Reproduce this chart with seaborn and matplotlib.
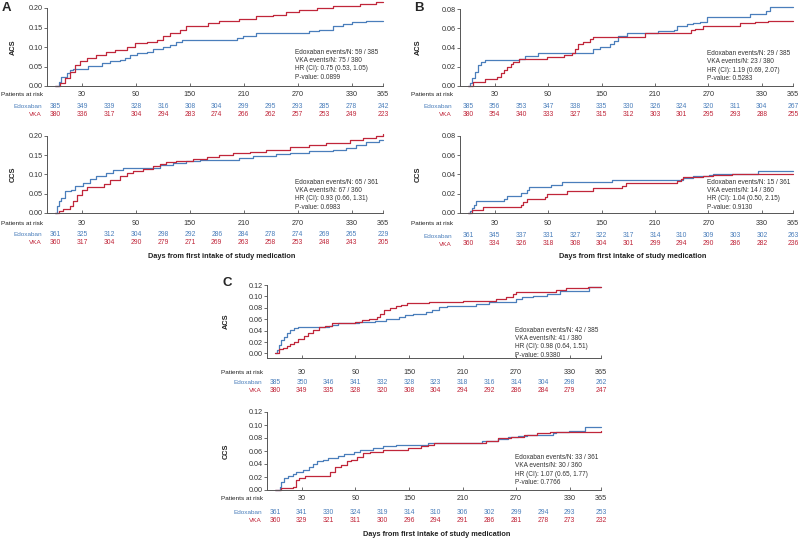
import matplotlib
matplotlib.use("Agg")
import matplotlib.pyplot as plt
import matplotlib.transforms as mtransforms
import pandas as pd
import seaborn as sns

# --- Configuration ---
W, H = 800, 540
BLUE = "#4a7ebb"
RED = "#c0263a"
AXIS_GREY = "#555555"
XTICKS = [30, 90, 150, 210, 270, 330, 365]
RISK_DAYS = [0, 30, 60, 90, 120, 150, 180, 210, 240, 270, 300, 330, 365]

# --- Panel A (cumulative incidence) ---
a_acs_edox_days = [0, 4, 7, 13, 17, 20, 37, 52, 61, 72, 78, 83, 91, 102, 109, 120, 128, 135, 141,
                   202, 209, 224, 283, 294, 309, 320, 331, 346, 365]
a_acs_edox_risk = [0, 0.011, 0.024, 0.033, 0.041, 0.044, 0.052, 0.058, 0.063, 0.067, 0.071, 0.080,
                   0.084, 0.088, 0.094, 0.099, 0.106, 0.112, 0.117, 0.123, 0.129, 0.136, 0.140,
                   0.144, 0.153, 0.159, 0.163, 0.166, 0.166]
a_acs_vka_days = [0, 5, 11, 17, 22, 28, 35, 46, 57, 67, 80, 89, 102, 113, 120, 128, 139, 146, 170,
                  183, 205, 224, 243, 257, 272, 291, 309, 339, 357, 365]
a_acs_vka_risk = [0, 0.007, 0.020, 0.037, 0.054, 0.063, 0.071, 0.080, 0.088, 0.093, 0.101, 0.110,
                  0.112, 0.118, 0.127, 0.136, 0.144, 0.153, 0.161, 0.167, 0.172, 0.179, 0.183,
                  0.189, 0.196, 0.200, 0.204, 0.209, 0.215, 0.215]
a_ccs_edox_days = [0, 2, 4, 7, 11, 18, 22, 31, 39, 46, 57, 65, 76, 117, 131, 146, 161, 205, 220,
                   246, 261, 283, 309, 324, 335, 346, 361, 365]
a_ccs_edox_risk = [0, 0.017, 0.030, 0.039, 0.056, 0.060, 0.071, 0.079, 0.088, 0.097, 0.103, 0.112,
                   0.116, 0.125, 0.129, 0.134, 0.138, 0.142, 0.147, 0.153, 0.157, 0.160, 0.164,
                   0.168, 0.177, 0.185, 0.190, 0.190]
a_ccs_vka_days = [0, 4, 9, 17, 20, 24, 30, 35, 54, 61, 72, 80, 87, 98, 109, 117, 124, 135, 154, 169,
                  183, 198, 217, 235, 261, 283, 302, 328, 343, 357, 365]
a_ccs_vka_risk = [0, 0.004, 0.010, 0.017, 0.030, 0.047, 0.060, 0.067, 0.076, 0.086, 0.095, 0.103,
                  0.108, 0.114, 0.121, 0.127, 0.132, 0.135, 0.140, 0.145, 0.151, 0.155, 0.159,
                  0.164, 0.171, 0.177, 0.183, 0.190, 0.194, 0.200, 0.205]

# --- Panel B ---
b_acs_edox_days = [0, 2, 4, 8, 11, 15, 19, 57, 64, 79, 140, 148, 159, 164, 168, 179, 213, 231, 235,
                   246, 253, 260, 268, 317, 335, 339, 365]
b_acs_edox_risk = [0, 0.003, 0.008, 0.015, 0.022, 0.025, 0.027, 0.0285, 0.031, 0.034, 0.038, 0.041,
                   0.044, 0.047, 0.052, 0.055, 0.0567, 0.058, 0.062, 0.064, 0.065, 0.067, 0.072,
                   0.075, 0.078, 0.082, 0.082]
b_acs_vka_days = [0, 6, 19, 33, 37, 40, 44, 48, 51, 57, 89, 108, 117, 120, 124, 129, 137, 140, 199,
                  251, 255, 264, 306, 322, 337, 365]
b_acs_vka_risk = [0, 0.0045, 0.007, 0.0097, 0.013, 0.017, 0.020, 0.023, 0.025, 0.028, 0.030, 0.032,
                  0.034, 0.038, 0.0435, 0.046, 0.049, 0.051, 0.055, 0.0577, 0.059, 0.062, 0.065,
                  0.066, 0.068, 0.068]
b_ccs_edox_days = [0, 2, 4, 7, 9, 40, 44, 60, 66, 69, 93, 106, 162, 242, 253, 271, 275, 326, 365]
b_ccs_edox_risk = [0, 0.0017, 0.005, 0.0086, 0.012, 0.0145, 0.018, 0.0207, 0.024, 0.027, 0.029,
                   0.032, 0.0345, 0.036, 0.038, 0.0397, 0.041, 0.044, 0.044]
b_ccs_vka_days = [0, 4, 17, 59, 62, 66, 86, 89, 111, 140, 173, 177, 235, 239, 242, 264, 275, 297, 365]
b_ccs_vka_risk = [0, 0.0034, 0.006, 0.0086, 0.011, 0.0145, 0.017, 0.0197, 0.0224, 0.026, 0.028,
                  0.031, 0.0328, 0.035, 0.037, 0.0386, 0.0397, 0.041, 0.041]

# --- Panel C ---
c_acs_edox_days = [0, 2, 4, 7, 10, 13, 17, 21, 26, 60, 64, 71, 94, 112, 124, 139, 146, 154, 169,
                   176, 184, 193, 225, 240, 259, 270, 277, 289, 304, 319, 352, 365]
c_acs_edox_risk = [0, 0.006, 0.015, 0.023, 0.029, 0.035, 0.041, 0.044, 0.0457, 0.048, 0.0498, 0.054,
                   0.0556, 0.057, 0.061, 0.064, 0.067, 0.070, 0.073, 0.077, 0.081, 0.083, 0.087,
                   0.090, 0.091, 0.095, 0.0995, 0.101, 0.105, 0.110, 0.116, 0.116]
c_acs_vka_days = [0, 4, 9, 13, 17, 21, 26, 32, 37, 43, 49, 56, 64, 90, 97, 105, 114, 118, 122, 129,
                  135, 141, 148, 172, 210, 247, 259, 266, 270, 315, 326, 351, 365]
c_acs_vka_risk = [0, 0.007, 0.010, 0.013, 0.016, 0.020, 0.026, 0.030, 0.035, 0.041, 0.046, 0.048,
                  0.053, 0.056, 0.0585, 0.061, 0.064, 0.070, 0.076, 0.080, 0.083, 0.085, 0.088,
                  0.090, 0.0925, 0.095, 0.0995, 0.105, 0.108, 0.111, 0.114, 0.117, 0.117]
c_ccs_edox_days = [0, 5, 7, 10, 14, 20, 23, 31, 38, 43, 47, 54, 59, 70, 77, 88, 95, 110, 121, 135,
                   171, 232, 236, 250, 261, 272, 282, 311, 315, 329, 347, 365]
c_ccs_edox_risk = [0, 0.005, 0.013, 0.018, 0.021, 0.025, 0.028, 0.031, 0.036, 0.040, 0.044, 0.046,
                   0.049, 0.0525, 0.056, 0.059, 0.062, 0.064, 0.067, 0.0695, 0.073, 0.0747, 0.076,
                   0.078, 0.081, 0.083, 0.085, 0.0875, 0.0886, 0.091, 0.097, 0.097]
c_ccs_vka_days = [0, 7, 20, 23, 27, 34, 61, 67, 74, 81, 85, 92, 99, 106, 121, 149, 164, 171, 178,
                  236, 250, 264, 279, 293, 308, 365]
c_ccs_vka_risk = [0, 0.0026, 0.0052, 0.015, 0.018, 0.0216, 0.028, 0.036, 0.0386, 0.044, 0.046,
                  0.0515, 0.0566, 0.059, 0.0618, 0.064, 0.067, 0.069, 0.072, 0.076, 0.080, 0.0814,
                  0.085, 0.0875, 0.090, 0.091]

# --- Patients at risk ---
a_acs_edox_n = [385, 349, 339, 328, 316, 308, 304, 299, 295, 293, 285, 278, 242]
a_acs_vka_n = [380, 336, 317, 304, 294, 283, 274, 266, 262, 257, 253, 249, 223]
a_ccs_edox_n = [361, 325, 312, 304, 298, 292, 286, 284, 278, 274, 269, 265, 229]
a_ccs_vka_n = [360, 317, 304, 290, 279, 271, 269, 263, 258, 253, 248, 243, 205]
b_acs_edox_n = [385, 356, 353, 347, 338, 335, 330, 326, 324, 320, 311, 304, 267]
b_acs_vka_n = [380, 354, 340, 333, 327, 315, 312, 303, 301, 295, 293, 288, 255]
b_ccs_edox_n = [361, 345, 337, 331, 327, 322, 317, 314, 310, 309, 303, 302, 263]
b_ccs_vka_n = [360, 334, 326, 318, 308, 304, 301, 299, 294, 290, 286, 282, 236]
c_acs_edox_n = [385, 350, 346, 341, 332, 328, 323, 318, 316, 314, 304, 298, 262]
c_acs_vka_n = [380, 349, 335, 328, 320, 308, 304, 294, 292, 286, 284, 279, 247]
c_ccs_edox_n = [361, 341, 330, 324, 319, 314, 310, 306, 302, 299, 294, 293, 253]
c_ccs_vka_n = [360, 329, 321, 311, 300, 296, 294, 291, 286, 281, 278, 273, 232]

# --- Statistics boxes ---
a_acs_stats = ["Edoxaban events/N: 59 / 385", "VKA events/N: 75 / 380", "HR (CI): 0.75 (0.53, 1.05)", "P-value: 0.0899"]
a_ccs_stats = ["Edoxaban events/N: 65 / 361", "VKA events/N: 67 / 360", "HR (CI): 0.93 (0.66, 1.31)", "P-value: 0.6983"]
b_acs_stats = ["Edoxaban events/N: 29 / 385", "VKA events/N: 23 / 380", "HR (CI): 1.19 (0.69, 2.07)", "P-value: 0.5283"]
b_ccs_stats = ["Edoxaban events/N: 15 / 361", "VKA events/N: 14 / 360", "HR (CI): 1.04 (0.50, 2.15)", "P-value: 0.9130"]
c_acs_stats = ["Edoxaban events/N: 42 / 385", "VKA events/N: 41 / 380", "HR (CI): 0.98 (0.64, 1.51)", "P-value: 0.9380"]
c_ccs_stats = ["Edoxaban events/N: 33 / 361", "VKA events/N: 30 / 360", "HR (CI): 1.07 (0.65, 1.77)", "P-value: 0.7766"]

sns.set_style("ticks")
plt.rcParams["font.family"] = ["Liberation Sans", "DejaVu Sans"]

fig = plt.figure(figsize=(W / 100, H / 100), dpi=100)


def fx(x):
    return x / W


def fy(y):
    return 1 - y / H


def km_panel(rect, ylim, yticks, curves, n_edox, n_vka, stats, stats_xy,
             ylabel, ylabel_x, label_x, offs):
    """One cumulative-incidence panel with its risk table underneath."""
    left, right, top, bottom = rect
    ax = fig.add_axes([fx(left), fy(bottom), (right - left) / W, (bottom - top) / H])

    edox_days, edox_risk, vka_days, vka_risk = curves
    df = pd.concat([
        pd.DataFrame({"day": edox_days, "risk": edox_risk, "arm": "Edoxaban"}),
        pd.DataFrame({"day": vka_days, "risk": vka_risk, "arm": "VKA"}),
    ])
    sns.lineplot(data=df, x="day", y="risk", hue="arm",
                 palette={"Edoxaban": BLUE, "VKA": RED}, estimator=None,
                 drawstyle="steps-post", linewidth=0.9, legend=False,
                 clip_on=False, ax=ax)

    ax.set_xlim(-9, 365)
    ax.set_ylim(*ylim)
    ax.set_xticks(XTICKS)
    ax.set_yticks(yticks)
    ax.set_yticklabels([f"{t:.2f}" for t in yticks])
    ax.set_xlabel("")
    ax.set_ylabel(ylabel, fontsize=5.3, weight="bold", color="#222222")
    # label anchor is the right edge of the rotated text
    ax.yaxis.set_label_coords((ylabel_x + 3.5 - left) / (right - left), 0.5)
    sns.despine(ax=ax)
    for side in ["left", "bottom"]:
        ax.spines[side].set_color(AXIS_GREY)
        ax.spines[side].set_linewidth(0.7)
    tick_off, edox_off, vka_off = offs
    ax.tick_params(axis="y", labelsize=5.2, length=2, width=0.6, pad=1.2,
                   colors=AXIS_GREY, labelcolor="#333333")
    ax.tick_params(axis="x", labelsize=5.2, length=2, width=0.6, direction="in",
                   pad=(tick_off - 3.5) * 0.72, colors=AXIS_GREY, labelcolor="#333333")

    # risk table
    for counts, off, color, name in [(n_edox, edox_off, BLUE, "Edoxaban"),
                                     (n_vka, vka_off, RED, "VKA")]:
        trans = mtransforms.offset_copy(ax.get_xaxis_transform(), fig=fig,
                                        x=0, y=-off, units="dots")
        for d, n in zip(RISK_DAYS, counts):
            ax.text(d, 0, str(n), transform=trans, ha="center", va="center",
                    fontsize=4.9, color=color, clip_on=False)
        fig.text(fx(label_x + 41), fy(bottom + off), name, ha="right", va="center",
                 fontsize=4.6, color=color)
    fig.text(fx(label_x), fy(bottom + tick_off), "Patients at risk", ha="left",
             va="center", fontsize=4.6, color="#222222")

    fig.text(fx(stats_xy[0]), fy(stats_xy[1]), "\n".join(stats), ha="left", va="top",
             fontsize=4.7, linespacing=1.25, color="#333333")
    return ax


km_panel((47, 383, 8, 86), (0, 0.20), [0, 0.05, 0.10, 0.15, 0.20],
         (a_acs_edox_days, a_acs_edox_risk, a_acs_vka_days, a_acs_vka_risk),
         a_acs_edox_n, a_acs_vka_n, a_acs_stats, (295, 49), "ACS", 13, 1, (9, 21, 28))
km_panel((47, 383, 136, 213), (0, 0.20), [0, 0.05, 0.10, 0.15, 0.20],
         (a_ccs_edox_days, a_ccs_edox_risk, a_ccs_vka_days, a_ccs_vka_risk),
         a_ccs_edox_n, a_ccs_vka_n, a_ccs_stats, (295, 179), "CCS", 13, 1, (11, 22, 30))
km_panel((460, 793, 9, 86), (0, 0.08), [0, 0.02, 0.04, 0.06, 0.08],
         (b_acs_edox_days, b_acs_edox_risk, b_acs_vka_days, b_acs_vka_risk),
         b_acs_edox_n, b_acs_vka_n, b_acs_stats, (707, 50), "ACS", 418, 411, (9, 21, 28))
km_panel((460, 793, 136, 213), (0, 0.08), [0, 0.02, 0.04, 0.06, 0.08],
         (b_ccs_edox_days, b_ccs_edox_risk, b_ccs_vka_days, b_ccs_vka_risk),
         b_ccs_edox_n, b_ccs_vka_n, b_ccs_stats, (707, 179), "CCS", 418, 411, (11, 23, 31))
km_panel((267, 601, 285, 358), (-0.008, 0.12), [0, 0.02, 0.04, 0.06, 0.08, 0.10, 0.12],
         (c_acs_edox_days, c_acs_edox_risk, c_acs_vka_days, c_acs_vka_risk),
         c_acs_edox_n, c_acs_vka_n, c_acs_stats, (515, 327), "ACS", 226, 221, (14, 25, 33))
km_panel((267, 601, 412, 490), (0, 0.12), [0, 0.02, 0.04, 0.06, 0.08, 0.10, 0.12],
         (c_ccs_edox_days, c_ccs_edox_risk, c_ccs_vka_days, c_ccs_vka_risk),
         c_ccs_edox_n, c_ccs_vka_n, c_ccs_stats, (515, 454), "CCS", 226, 221, (9, 22, 31))

# axis titles and panel letters
xlabel = "Days from first intake of study medication"
for x, y in [(222, 257), (633, 257), (437, 535)]:
    fig.text(fx(x), fy(y), xlabel, ha="center", va="center", fontsize=5.3,
             weight="bold", color="#222222")
for letter, x, y in [("A", 2, 2), ("B", 414, 2), ("C", 222, 277)]:
    fig.text(fx(x), fy(y), letter, ha="left", va="top", fontsize=9.5, weight="bold")

fig.savefig("out.png", dpi=100, facecolor="white")
